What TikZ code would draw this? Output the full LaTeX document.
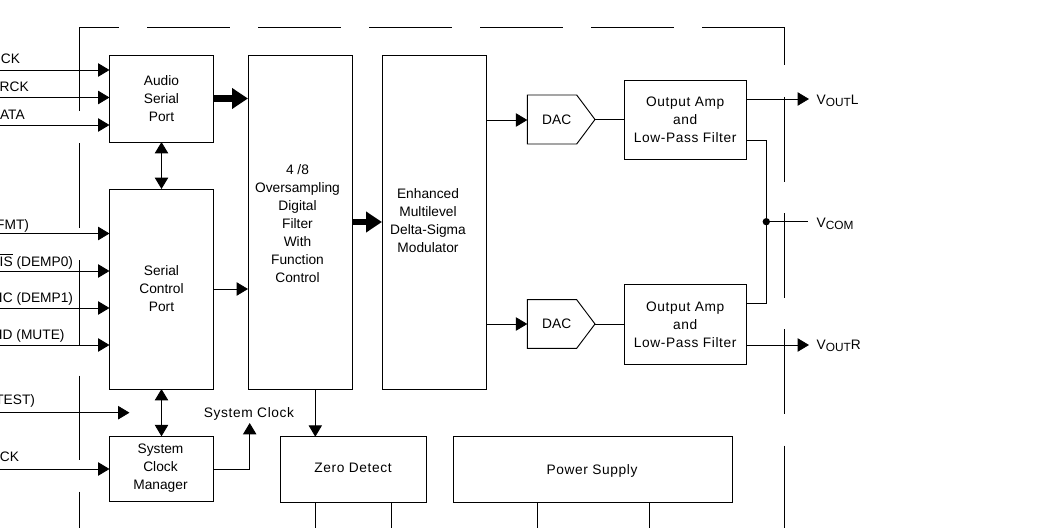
\documentclass[tikz,border=0pt]{standalone}
\usepackage{fontspec}
\setmainfont{Liberation Sans}
\usetikzlibrary{arrows.meta}
\newcommand{\subtxt}[1]{\raisebox{-0.28ex}{\fontsize{8.9pt}{10pt}\selectfont #1}}
\newfontfamily\spacedfont[LetterSpace=4.5]{Liberation Sans}
\tikzset{
 x=0.75pt,y=-0.75pt,
 every node/.style={font=\fontsize{10.3pt}{13.5pt}\selectfont,inner sep=0pt,outer sep=0pt},
 blockbox/.style={draw,line width=0.7pt,align=center,anchor=north west},
 wire/.style={line width=0.6pt},
 frameline/.style={line width=0.7pt},
 arr/.style={wire,-{Triangle[length=8.5pt,width=10pt]}},
 darr/.style={wire,{Triangle[length=8.5pt,width=10pt]}-{Triangle[length=8.5pt,width=10pt]}},
 fat/.style={line width=5.2pt,-{Triangle[length=12pt,width=15pt]}},
 inlab/.style={anchor=base east},
 outlab/.style={anchor=base west},
 dot/.style={circle,fill,minimum size=5.5pt},
 txt/.style={align=center},
 wide/.style={font=\fontsize{10.3pt}{13.5pt}\selectfont\spacedfont},
}
\begin{document}
\begin{tikzpicture}
\useasboundingbox (0,0) rectangle (1047,528);
% frame
\foreach \a/\b in {147/230,258/341,369/452,480/563,591/674}
  \draw[frameline] (\a,27) -- (\b,27);
\draw[frameline] (118.5,27) -- (79.5,27) -- (79.5,111);
\draw[frameline] (702,27) -- (784,27) -- (784,65.5);
\foreach \a/\b in {143.5/228,260/345,375.5/460,491.5/528}
  \draw[frameline] (79.5,\a) -- (79.5,\b);
\foreach \a/\b in {97/182,213/297.7,329.3/414,445.7/528}
  \draw[frameline] (784,\a) -- (784,\b);
% blocks
\node[blockbox,minimum width=104*0.75pt,minimum height=87*0.75pt] (asp) at (109.5,55) {Audio\\Serial\\Port};
\node[blockbox,minimum width=104*0.75pt,minimum height=200*0.75pt] (scp) at (109.5,189) {Serial\\Control\\Port};
\node[blockbox,minimum width=104*0.75pt,minimum height=65.5*0.75pt] (scm) at (109.5,436.3) {};
\node[txt] (scmT) at (160.5,468.3) {System\\Clock\\Manager};
\node[blockbox,minimum width=104.7*0.75pt,minimum height=334*0.75pt] (flt) at (248,55) {};
\node[txt] (fltT) at (297.5,223.5) {4 /8\\Oversampling\\Digital\\Filter\\With\\Function\\Control};
\node[blockbox,minimum width=104*0.75pt,minimum height=334*0.75pt] (mod) at (382,55) {};
\node[txt] (modT) at (428,221) {Enhanced\\Multilevel\\Delta-Sigma\\Modulator};
\node[blockbox,wide,minimum width=121.7*0.75pt,minimum height=79.7*0.75pt] (oa1) at (624.3,80) {Output Amp\\and\\Low-Pass Filter};
\node[blockbox,wide,minimum width=121.7*0.75pt,minimum height=79.5*0.75pt] (oa2) at (624.3,284.7) {Output Amp\\and\\Low-Pass Filter};
\node[blockbox,minimum width=146*0.75pt,minimum height=65.3*0.75pt] (zd) at (280.3,436.7) {};
\node[wide] (zdT) at (353,468) {Zero Detect};
\node[blockbox,minimum width=279*0.75pt,minimum height=66*0.75pt] (ps) at (453.7,436) {};
\node[wide] (psT) at (592,471) {Power Supply};
% DACs
\draw[line join=miter,line width=0.7pt] (527.3,95) -- (576.7,95) -- (595,119.5) coordinate (dac1tip) -- (576.7,144) -- (527.3,144) -- cycle;
\draw[line join=miter,line width=0.7pt] (527.3,299.7) -- (576.7,299.7) -- (595,324) coordinate (dac2tip) -- (576.7,348.3) -- (527.3,348.3) -- cycle;
\coordinate (dac1in) at (527.3,120);
\coordinate (dac2in) at (527.3,324);
\node (dac1) at (556.7,119.5) {DAC};
\node (dac2) at (556.7,323.5) {DAC};
% free ends
\foreach \n/\y in {i1/70,i2/97.5,i3/125,i4/233.5,i5/271,i6/308,i7/345,i8/412.7,i9/469}
  \coordinate (\n) at (0,\y);
\coordinate (testend) at (129.5,412.7);
\coordinate (vl) at (809,99);
\coordinate (vr) at (809,345);
\coordinate (vc) at (808,221.7);
\coordinate (sclk) at (249.7,423);
% input labels
\node[inlab] (l1) at (20,63.5) {CK};
\node[inlab] (l2) at (28.7,91.5) {RCK};
\node[inlab] (l3) at (24.7,119.5) {ATA};
\node[inlab] (l4) at (29,229) {FMT)};
\node[inlab] (l5) at (73,266) {$\overline{\hbox{IS}}$ (DEMP0)};
\node[inlab] (l6) at (73,302.3) {IC (DEMP1)};
\node[inlab] (l7) at (64.5,339.3) {ID (MUTE)};
\node[inlab] (l8) at (35,404.3) {TEST)};
\node[inlab] (l9) at (19,461) {CK};
% input wires
\foreach \n in {i1,i2,i3} \draw[arr] (\n) -- (asp.west |- \n);
\foreach \n in {i4,i5,i6,i7} \draw[arr] (\n) -- (scp.west |- \n);
\draw[arr] (i8) -- (testend);
\draw[arr] (i9) -- (scm.west |- i9);
% inner connectors
\draw[darr] (161.5,142) -- (161.5,189);
\draw[darr] (161.5,389) -- (161.5,436.3);
\draw[fat] (asp.east |- 0,98.5) -- (flt.west |- 0,98.5);
\draw[fat] (flt.east |- 0,222) -- (mod.west |- 0,222);
\draw[arr] (scp.east |- 0,289) -- (flt.west |- 0,289);
\draw[arr] (mod.east |- dac1in) -- (dac1in);
\draw[arr] (mod.east |- dac2in) -- (dac2in);
\draw[wire] (dac1tip) -- (oa1.west |- dac1tip);
\draw[wire] (dac2tip) -- (oa2.west |- dac2tip);
\draw[arr] (oa1.east |- vl) -- (vl);
\draw[arr] (oa2.east |- vr) -- (vr);
\draw[wire] (oa1.east |- 0,140.7) -- (766.3,140.7) -- (766.3,303.3) -- (oa2.east |- 0,303.3);
\node[dot] (junc) at (766.3,221.7) {};
\draw[wire] (junc) -- (vc);
\draw[arr] (scm.east |- i9) -| (sclk);
\draw[arr] (flt.south -| 315.3,0) -- (zd.north -| 315.3,0);
% stubs below
\coordinate (zs1) at (315.3,528); \coordinate (zs2) at (391.3,528);
\coordinate (ps1) at (537.3,528); \coordinate (ps2) at (649,528);
\draw[wire] (zd.south -| zs1) -- (zs1);
\draw[wire] (zd.south -| zs2) -- (zs2);
\draw[wire] (ps.south -| ps1) -- (ps1);
\draw[wire] (ps.south -| ps2) -- (ps2);
% labels
\node[wide,anchor=base] (sclkT) at (249,417) {System Clock};
\node[outlab] (vlT) at (816.7,104) {V\subtxt{OUT}L};
\node[outlab] (vcT) at (816.7,227.5) {V\subtxt{COM}};
\node[outlab] (vrT) at (816.7,349.5) {V\subtxt{OUT}R};
\end{tikzpicture}
\end{document}
